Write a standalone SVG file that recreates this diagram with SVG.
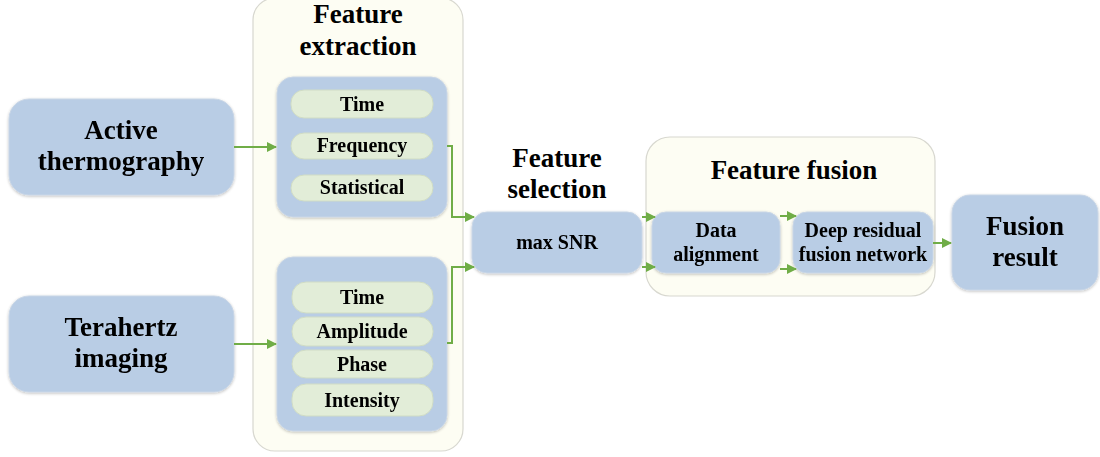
<svg xmlns="http://www.w3.org/2000/svg" width="1100" height="457" viewBox="0 0 1100 457">
<style>
.blue{fill:#B9CDE5;stroke:#C9D6E6;stroke-width:1}
.cont{fill:#FDFDF3;stroke:#D8D8D0;stroke-width:1.2}
.pill{fill:#E2EDD8;stroke:#D0DCC5;stroke-width:1}
.big{font-family:"Liberation Serif","Times New Roman",serif;font-weight:bold;font-size:27px;fill:#000;text-anchor:middle}
.sm{font-family:"Liberation Serif","Times New Roman",serif;font-weight:bold;font-size:20px;fill:#000;text-anchor:middle}
.ar{fill:none;stroke:#70AD47;stroke-width:2;marker-end:url(#ah)}
</style>
<defs>
<marker id="ah" viewBox="0 0 10 10" refX="9" refY="5" markerWidth="5" markerHeight="5" markerUnits="strokeWidth" orient="auto">
<path d="M0,0 L10,5 L0,10 z" fill="#70AD47"/>
</marker>
<filter id="sh" x="-10%" y="-10%" width="120%" height="120%">
<feGaussianBlur in="SourceAlpha" stdDeviation="1.5"/>
<feOffset dx="0" dy="1" result="b"/>
<feComponentTransfer><feFuncA type="linear" slope="0.25"/></feComponentTransfer>
<feMerge><feMergeNode/><feMergeNode in="SourceGraphic"/></feMerge>
</filter>
</defs>
<rect width="1100" height="457" fill="#FFFFFF"/>

<g id="feature-extraction">
<rect class="cont" x="253" y="-2" width="210" height="453" rx="22"/>
<text class="big" x="358" y="23">Feature</text>
<text class="big" x="358" y="55">extraction</text>
</g>

<g id="feature-fusion">
<rect class="cont" x="646" y="137" width="289" height="159" rx="24"/>
<text class="big" x="794" y="179">Feature fusion</text>
</g>

<g id="active-thermography" filter="url(#sh)">
<rect class="blue" x="9" y="99" width="225" height="96" rx="20"/>
<text class="big" x="121" y="139">Active</text>
<text class="big" x="121" y="170">thermography</text>
</g>

<g id="terahertz-imaging" filter="url(#sh)">
<rect class="blue" x="9" y="296" width="225" height="96" rx="20"/>
<text class="big" x="121" y="336">Terahertz</text>
<text class="big" x="121" y="367">imaging</text>
</g>

<g id="thermo-features" filter="url(#sh)">
<rect class="blue" x="277" y="77" width="170" height="140" rx="16"/>
<rect class="pill" x="291" y="90" width="142" height="28" rx="13"/>
<text class="sm" x="362" y="111">Time</text>
<rect class="pill" x="291" y="133" width="142" height="26" rx="13"/>
<text class="sm" x="362" y="152">Frequency</text>
<rect class="pill" x="291" y="175" width="142" height="26" rx="13"/>
<text class="sm" x="362" y="194">Statistical</text>
</g>

<g id="thz-features" filter="url(#sh)">
<rect class="blue" x="277" y="257" width="170" height="174" rx="16"/>
<rect class="pill" x="292" y="282" width="141" height="31" rx="14"/>
<text class="sm" x="362" y="304">Time</text>
<rect class="pill" x="292" y="317" width="141" height="29" rx="14"/>
<text class="sm" x="362" y="338">Amplitude</text>
<rect class="pill" x="292" y="350" width="141" height="28" rx="14"/>
<text class="sm" x="362" y="371">Phase</text>
<rect class="pill" x="292" y="384" width="141" height="32" rx="14"/>
<text class="sm" x="362" y="407">Intensity</text>
</g>

<g id="feature-selection">
<text class="big" x="557" y="167">Feature</text>
<text class="big" x="557" y="198">selection</text>
</g>

<g id="max-snr" filter="url(#sh)">
<rect class="blue" x="472" y="212" width="170" height="61" rx="15"/>
<text class="sm" x="557" y="249">max SNR</text>
</g>

<g id="data-alignment" filter="url(#sh)">
<rect class="blue" x="652" y="212" width="128" height="61" rx="14"/>
<text class="sm" x="716" y="237">Data</text>
<text class="sm" x="716" y="261">alignment</text>
</g>

<g id="deep-residual" filter="url(#sh)">
<rect class="blue" x="793" y="212" width="140" height="61" rx="14"/>
<text class="sm" x="863" y="237">Deep residual</text>
<text class="sm" x="863" y="261">fusion network</text>
</g>

<g id="fusion-result" filter="url(#sh)">
<rect class="blue" x="952" y="195" width="146" height="95" rx="18"/>
<text class="big" x="1025" y="235">Fusion</text>
<text class="big" x="1025" y="266">result</text>
</g>

<g id="connectors">
<path class="ar" d="M234,147 L276,147"/>
<path class="ar" d="M234,344 L276,344"/>
<path class="ar" d="M447,146 L452,146 L452,217 L474,217"/>
<path class="ar" d="M447,343 L452,343 L452,267 L474,267"/>
<path class="ar" d="M642,217 L655,217"/>
<path class="ar" d="M642,267 L655,267"/>
<path class="ar" d="M780,216 L796,216"/>
<path class="ar" d="M780,269 L796,269"/>
<path class="ar" d="M933,243 L951,243"/>
</g>
</svg>
